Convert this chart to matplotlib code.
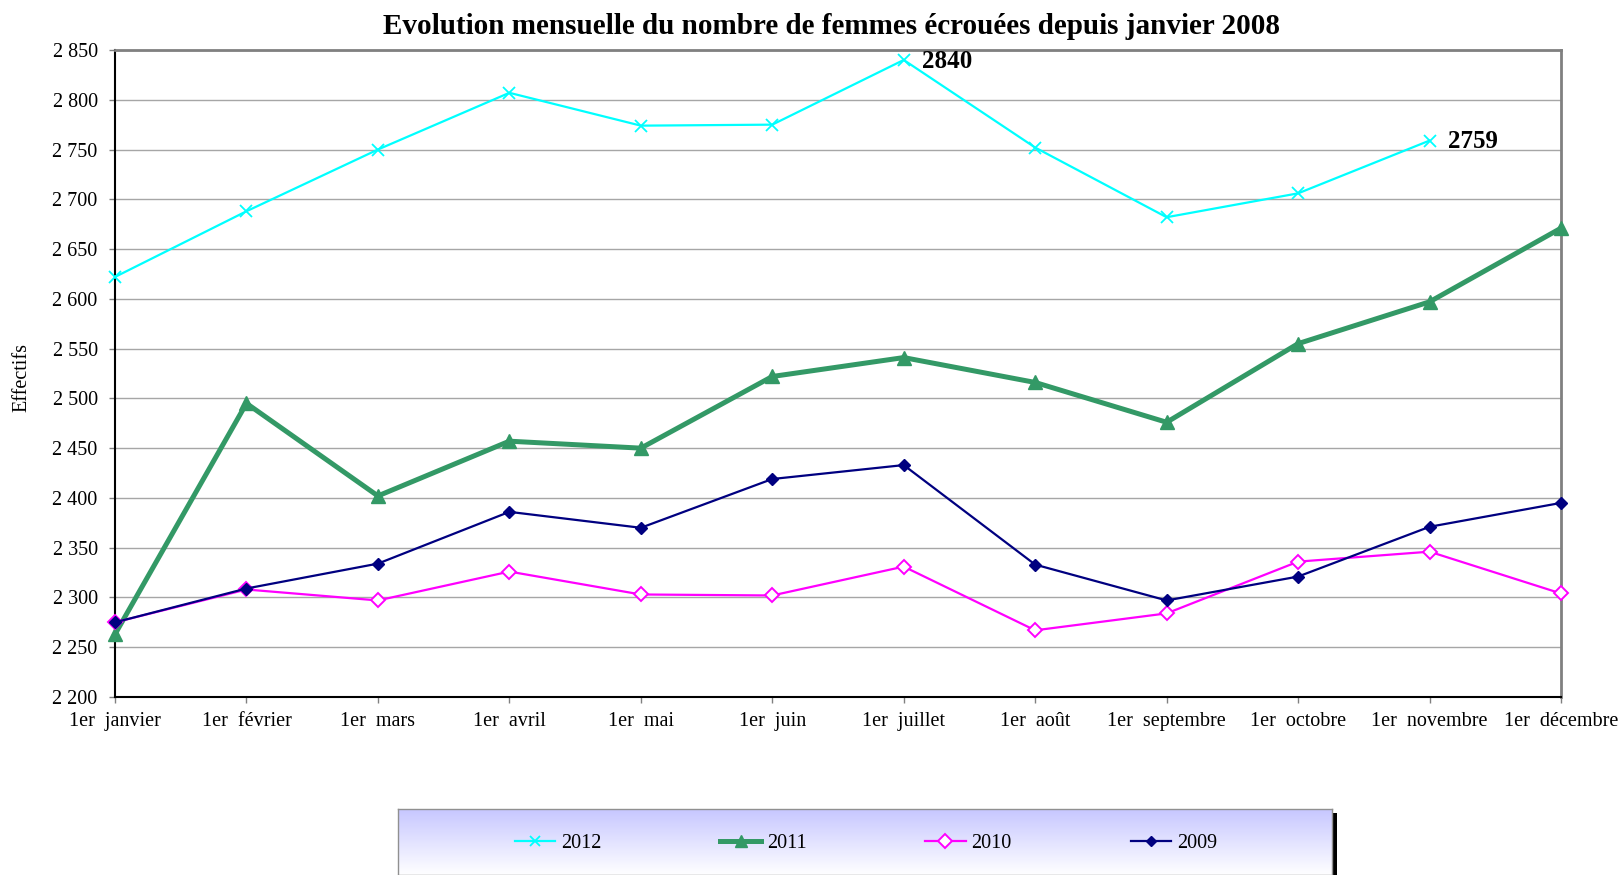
import matplotlib
matplotlib.use("Agg")
import matplotlib.pyplot as plt
import numpy as np
from matplotlib.ticker import FuncFormatter, MultipleLocator
from matplotlib.patches import Rectangle

plt.rcParams['font.family'] = ['Liberation Serif', 'DejaVu Serif']

months = ["1er  janvier", "1er  février", "1er  mars", "1er  avril", "1er  mai",
          "1er  juin", "1er  juillet", "1er  août", "1er  septembre",
          "1er  octobre", "1er  novembre", "1er  décembre"]

s2012 = [2622, 2688, 2750, 2807, 2774, 2775, 2840, 2752, 2682, 2706, 2759, None]
s2011 = [2263, 2495, 2402, 2457, 2450, 2522, 2541, 2516, 2476, 2555, 2597, 2671]
s2010 = [2275, 2308, 2297, 2326, 2303, 2302, 2331, 2267, 2284, 2336, 2346, 2304]
s2009 = [2275, 2309, 2334, 2386, 2370, 2419, 2433, 2333, 2297, 2321, 2371, 2395]
labelled_2012 = [6, 10]

title = "Evolution mensuelle du nombre de femmes écrouées depuis janvier 2008"

W, H = 1622, 875
fig = plt.figure(figsize=(W / 100, H / 100), dpi=100)
ax = fig.add_axes([115 / W, 1 - 697 / H, (1561 - 115) / W, (697 - 50) / H])

x = np.arange(len(months))
y12 = np.array([np.nan if v is None else v for v in s2012], dtype=float)

ax.plot(x, y12, color='#00FFFF', lw=1.6, marker='x', ms=8, mew=1.3,
        label='2012', clip_on=False, zorder=3)
ax.plot(x, s2011, color='#339966', lw=3.6, marker='^', ms=10,
        label='2011', clip_on=False, zorder=3)
ax.plot(x, s2010, color='#FF00FF', lw=1.6, marker='D', ms=7.5, mfc='white',
        mec='#FF00FF', mew=1.4, label='2010', clip_on=False, zorder=3)
ax.plot(x, s2009, color='#000080', lw=1.6, marker='D', ms=6, mfc='#000080',
        mec='#000080', label='2009', clip_on=False, zorder=3)

for i in labelled_2012:
    ax.annotate(f"{s2012[i]}", (x[i], s2012[i]), xytext=(13, -1),
                textcoords='offset points', va='center', ha='left',
                fontsize=18, fontweight='bold')

ax.set_xlim(0, len(months) - 1)
ax.set_ylim(2200, 2850)
ax.yaxis.set_major_locator(MultipleLocator(50))
ax.yaxis.set_major_formatter(FuncFormatter(lambda v, p: f"{int(v):,}".replace(",", " ")))
ax.set_xticks(x)
ax.set_xticklabels(months)
ax.tick_params(axis='both', labelsize=14.5, length=4, width=1, color='#808080')
ax.tick_params(axis='y', pad=8.5)
ax.tick_params(axis='x', pad=7)
ax.grid(axis='y', color='#a6a6a6', lw=1)
ax.set_axisbelow(True)
for side in ['left', 'bottom']:
    ax.spines[side].set_color('black')
    ax.spines[side].set_linewidth(1.5)
for side in ['top', 'right']:
    ax.spines[side].set_color('#808080')
    ax.spines[side].set_linewidth(2)

fig.text(22 / W, 1 - 377 / H, "Effectifs", rotation=90, va='center', ha='center', fontsize=14.5)
fig.text(831 / W, 1 - 26 / H, title, ha='center', va='center', fontsize=21, fontweight='bold')

# legend box with gradient and shadow
bx0, bx1, by0 = 398, 1332, 809
shadow = Rectangle(((bx0 + 5) / W, 0), (bx1 - bx0) / W, 1 - (by0 + 4) / H,
                   transform=fig.transFigure, facecolor='black', edgecolor='none', zorder=1)
fig.patches.append(shadow)
lax = fig.add_axes([bx0 / W, 0, (bx1 - bx0) / W, 1 - by0 / H], zorder=2)
grad = np.linspace(0, 1, 256).reshape(-1, 1)
top = np.array([0.78, 0.78, 1.0])
bot = np.array([1.0, 1.0, 1.0])
img = top[None, None, :] * (1 - grad[:, :, None]) + bot[None, None, :] * grad[:, :, None]
lax.imshow(img, aspect='auto', extent=[0, 1, 0, 1], origin='upper')
lax.set_xlim(0, 1)
lax.set_ylim(0, 1)
lax.set_xticks([])
lax.set_yticks([])
for sp in lax.spines.values():
    sp.set_color('#909090')
    sp.set_linewidth(1)

handles, labels = ax.get_legend_handles_labels()
leg = fig.legend(handles, labels, loc='center', bbox_to_anchor=(866 / W, 1 - 843 / H),
                 ncol=4, frameon=False, fontsize=14.5, handlelength=2.0,
                 handletextpad=0.3, columnspacing=5.9, markerscale=0.9)
leg.set_zorder(5)

fig.savefig("out.png", dpi=100)
